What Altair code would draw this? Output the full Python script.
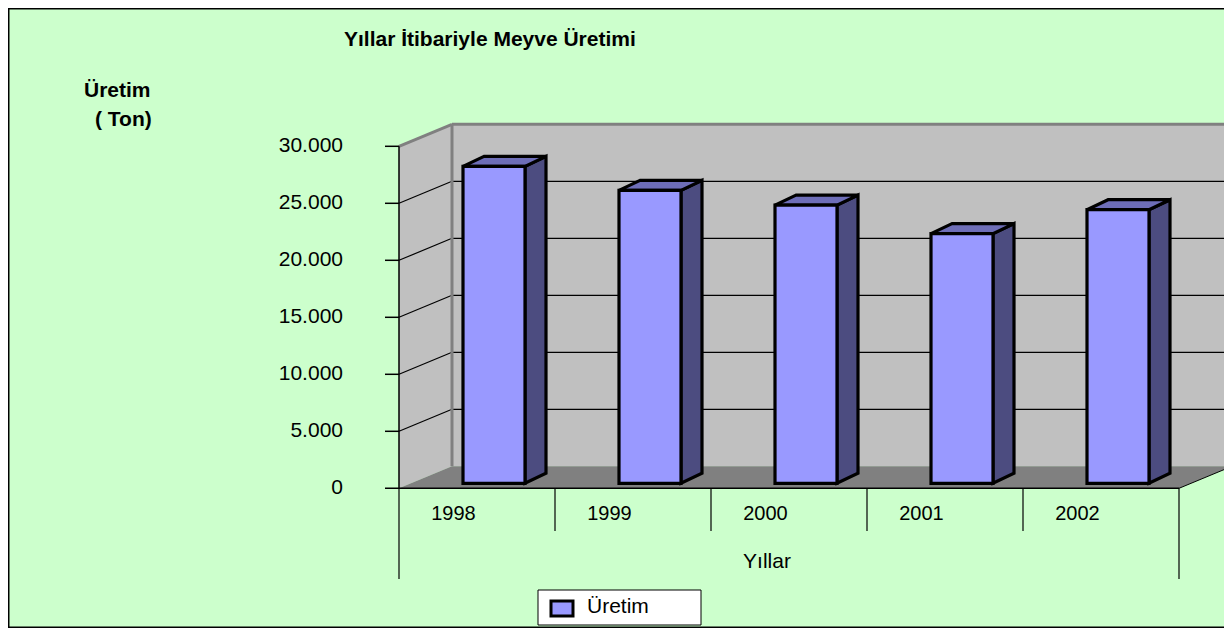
import altair as alt
import pandas as pd

# ---------------- data ----------------
YEARS = ["1998", "1999", "2000", "2001", "2002"]
VALUES = [27800, 25700, 24400, 21900, 24000]
TICK_VALUES = [0, 5000, 10000, 15000, 20000, 25000, 30000]
TICK_LABELS = ["0", "5.000", "10.000", "15.000", "20.000", "25.000", "30.000"]
TITLE = "Yıllar İtibariyle Meyve Üretimi"
Y_TITLE_LINES = ["Üretim", "( Ton)"]
X_TITLE = "Yıllar"
SERIES_NAME = "Üretim"

# ---------------- layout ----------------
W, H = 1216, 620
PAGE = 8
PX = 342 / 30000          # pixels per unit
ZERO_Y = 488.3            # page y of value 0 at the front plane


def vy(page_y):
    return (ZERO_Y - page_y) / PX


XS = alt.Scale(domain=[PAGE, PAGE + W], nice=False, zero=False)
YS = alt.Scale(domain=[vy(PAGE + H), vy(PAGE)], nice=False, zero=False)

AX_X = 399
SLOT = 156
N = len(YEARS)
AX_END = AX_X + SLOT * N
DEPTH_X = 53
DEPTH_V = 22 / PX
TOP_V = TICK_VALUES[-1]
BAR_OFF = 64
BAR_W = 62
BAR_DX = 21
BAR_DV = 10 / PX
BAR_BASE = 5 / PX
RIGHT = PAGE + W + 20
LS = 11  # legend shift up

FONT = "Liberation Sans"
FRONT = "#9999FF"
SIDE = "#4C4C80"
TOPC = "#6E6EB8"
WALL = "#C0C0C0"
FLOOR = "#808080"
EDGE = "#808080"
BG = "#CCFFCC"
BAR_STROKE = 3.2


def X(f):
    return alt.X(f"{f}:Q", scale=XS, axis=None)


def Y(f):
    return alt.Y(f"{f}:Q", scale=YS, axis=None)


def segs(rows, color="black", width=1.0):
    df = pd.DataFrame(rows, columns=["x", "x2", "y", "y2"])
    return alt.Chart(df).mark_rule(color=color, strokeWidth=width).encode(
        x=X("x"), x2=alt.X2("x2"), y=Y("y"), y2=alt.Y2("y2")
    )


layers = []

# back wall
back = pd.DataFrame({"x": [AX_X + DEPTH_X], "x2": [RIGHT], "lo": [DEPTH_V], "hi": [TOP_V + DEPTH_V]})
layers.append(alt.Chart(back).mark_rect(fill=WALL).encode(
    x=X("x"), x2=alt.X2("x2"), y=Y("hi"), y2=alt.Y2("lo")))

# left wall
lw = pd.DataFrame({"x": [AX_X, AX_X + DEPTH_X], "lo": [0, DEPTH_V], "hi": [TOP_V, TOP_V + DEPTH_V]})
layers.append(alt.Chart(lw).mark_area(orient="vertical", fill=WALL, opacity=1).encode(
    x=X("x"), y=Y("hi"), y2=alt.Y2("lo")))

# floor
fl = pd.DataFrame({"y": [0, DEPTH_V], "xl": [AX_X, AX_X + DEPTH_X], "xr": [AX_END, AX_END + DEPTH_X]})
layers.append(alt.Chart(fl).mark_area(orient="horizontal", fill=FLOOR, opacity=1).encode(
    y=Y("y"), x=X("xl"), x2=alt.X2("xr")))

grid_vals = TICK_VALUES[1:-1]
# back wall gridlines
layers.append(segs([(AX_X + DEPTH_X, RIGHT, t + DEPTH_V, t + DEPTH_V) for t in grid_vals], "black", 1.2))
# left wall diagonal gridlines
layers.append(segs([(AX_X, AX_X + DEPTH_X, t, t + DEPTH_V) for t in grid_vals], "black", 1.2))
# wall edges (gray)
layers.append(segs([
    (AX_X, AX_X + DEPTH_X, TOP_V, TOP_V + DEPTH_V),
    (AX_X + DEPTH_X, RIGHT, TOP_V + DEPTH_V, TOP_V + DEPTH_V),
    (AX_X + DEPTH_X, AX_X + DEPTH_X, DEPTH_V, TOP_V + DEPTH_V),
], EDGE, 3))

# ---------------- bars ----------------
bars = pd.DataFrame({"year": YEARS, "value": VALUES, "idx": list(range(N))})
bars2 = bars.merge(pd.DataFrame({"pt": [0, 1]}), how="cross")

side = alt.Chart(bars2).transform_calculate(
    sx=f"{AX_X} + datum.idx * {SLOT} + {BAR_OFF + BAR_W} + datum.pt * {BAR_DX}",
    slo=f"{BAR_BASE} + datum.pt * {BAR_DV}",
    shi=f"datum.value + {BAR_BASE} + datum.pt * {BAR_DV}",
).mark_area(orient="vertical", fill=SIDE, stroke="black", strokeWidth=BAR_STROKE, opacity=1).encode(
    x=X("sx"), y=Y("shi"), y2=alt.Y2("slo"), detail="year:N")

top = alt.Chart(bars2).transform_calculate(
    ty=f"datum.value + {BAR_BASE} + datum.pt * {BAR_DV}",
    txl=f"{AX_X} + datum.idx * {SLOT} + {BAR_OFF} + datum.pt * {BAR_DX}",
    txr=f"{AX_X} + datum.idx * {SLOT} + {BAR_OFF + BAR_W} + datum.pt * {BAR_DX}",
).mark_area(orient="horizontal", fill=TOPC, stroke="black", strokeWidth=BAR_STROKE, opacity=1).encode(
    y=Y("ty"), x=X("txl"), x2=alt.X2("txr"), detail="year:N")

front = alt.Chart(bars).transform_calculate(
    xl=f"{AX_X} + datum.idx * {SLOT} + {BAR_OFF}",
    xr=f"{AX_X} + datum.idx * {SLOT} + {BAR_OFF + BAR_W}",
    yb=f"{BAR_BASE}",
    yt=f"datum.value + {BAR_BASE}",
).mark_rect(fill=FRONT, stroke="black", strokeWidth=BAR_STROKE).encode(
    x=X("xl"), x2=alt.X2("xr"), y=Y("yt"), y2=alt.Y2("yb"),
    tooltip=["year:N", "value:Q"])

layers += [side, top, front]

# ---------------- axes ----------------
layers.append(segs([
    (AX_X, AX_X, 0, TOP_V),                       # value axis
    (AX_X - 14, AX_END, 0, 0),                    # front floor edge
], "black", 1.5))
layers.append(segs([(AX_END, AX_END + DEPTH_X, 0, DEPTH_V)], "black", 1))
layers.append(segs([(AX_X - 14, AX_X, t, t) for t in TICK_VALUES[1:]], "black", 1.5))
# category dividers
div_rows = []
for i in range(N + 1):
    bottom = vy(579) if i in (0, N) else vy(531)
    div_rows.append((AX_X + i * SLOT, AX_X + i * SLOT, 0, bottom))
layers.append(segs(div_rows, "black", 1.2))

ticks = pd.DataFrame({"v": TICK_VALUES, "label": TICK_LABELS})
layers.append(alt.Chart(ticks).transform_calculate(xx="343").mark_text(
    font=FONT, fontSize=21, align="right", baseline="middle", color="black").encode(
    x=X("xx"), y=Y("v"), text="label:N"))

yl = pd.DataFrame({"year": YEARS, "idx": list(range(N))})
layers.append(alt.Chart(yl).transform_calculate(
    xx=f"{AX_X} + datum.idx * {SLOT} + 54.5", yy=f"{vy(514)}").mark_text(
    font=FONT, fontSize=20, align="center", baseline="middle", color="black").encode(
    x=X("xx"), y=Y("yy"), text="year:N"))

texts = pd.DataFrame([
    {"t": X_TITLE, "x": 767, "y": vy(562)},
])
layers.append(alt.Chart(texts).mark_text(font=FONT, fontSize=21, align="center", baseline="middle",
                                         color="black").encode(x=X("x"), y=Y("y"), text="t:N"))

btexts = pd.DataFrame([
    {"t": TITLE, "x": 344, "y": vy(39.5)},
    {"t": Y_TITLE_LINES[0], "x": 84, "y": vy(91)},
    {"t": Y_TITLE_LINES[1], "x": 95, "y": vy(120)},
])
layers.append(alt.Chart(btexts).mark_text(font=FONT, fontSize=21, fontWeight="bold", align="left",
                                          baseline="middle", color="black").encode(
    x=X("x"), y=Y("y"), text="t:N"))

# ---------------- legend ----------------
leg = pd.DataFrame({"x": [538], "x2": [701], "y": [vy(601 - LS)], "y2": [vy(636 - LS)]})
layers.append(alt.Chart(leg).mark_rect(fill="white", stroke="black", strokeWidth=1).encode(
    x=X("x"), x2=alt.X2("x2"), y=Y("y"), y2=alt.Y2("y2")))
sw = pd.DataFrame({"x": [551], "x2": [573], "y": [vy(612 - LS)], "y2": [vy(627 - LS)]})
layers.append(alt.Chart(sw).mark_rect(fill=FRONT, stroke="black", strokeWidth=3).encode(
    x=X("x"), x2=alt.X2("x2"), y=Y("y"), y2=alt.Y2("y2")))
lt = pd.DataFrame({"t": [SERIES_NAME], "x": [587], "y": [vy(618 - LS)]})
layers.append(alt.Chart(lt).mark_text(font=FONT, fontSize=21, align="left", baseline="middle",
                                      color="black").encode(x=X("x"), y=Y("y"), text="t:N"))

# ---------------- outer border ----------------
one = pd.DataFrame({"a": [0]})
layers.append(alt.Chart(one).mark_rule(color="black", strokeWidth=1.5).encode(
    x=alt.value(0), x2=alt.value(W), y=alt.value(0.75)))
layers.append(alt.Chart(one).mark_rule(color="black", strokeWidth=1.5).encode(
    x=alt.value(0), x2=alt.value(W), y=alt.value(H - 0.75)))
layers.append(alt.Chart(one).mark_rule(color="black", strokeWidth=1.5).encode(
    x=alt.value(0.75), y=alt.value(0), y2=alt.value(H)))

chart = alt.layer(*layers).properties(
    width=W, height=H, autosize="none", padding=0, background=BG
).configure_view(strokeWidth=0)

chart.save("out.html", embed_options={"renderer": "svg", "actions": False})
